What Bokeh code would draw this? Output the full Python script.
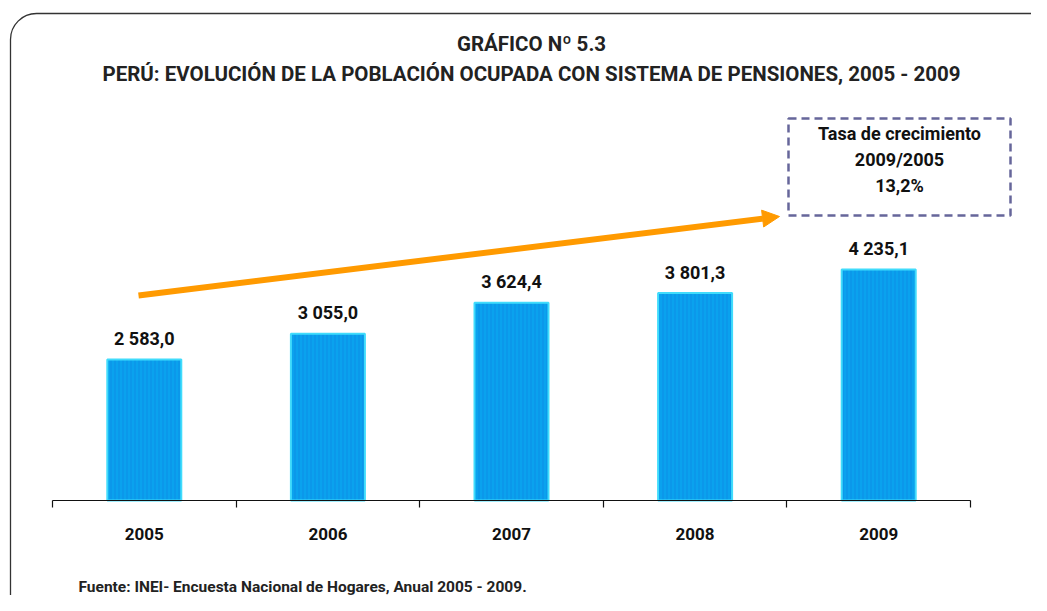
from bokeh.plotting import figure
from bokeh.models import (Range1d, LinearAxis, FixedTicker, BoxAnnotation, Arrow,
                          NormalHead, ColumnDataSource)
from bokeh.core.properties import value
from bokeh.embed import file_html
from bokeh.resources import INLINE

# ---- data ----
years = ["2005", "2006", "2007", "2008", "2009"]
values = [2583.0, 3055.0, 3624.4, 3801.3, 4235.1]
value_labels = ["2 583,0", "3 055,0", "3 624,4", "3 801,3", "4 235,1"]
title_lines = ["GRÁFICO Nº 5.3",
               "PERÚ: EVOLUCIÓN DE LA POBLACIÓN OCUPADA CON SISTEMA DE PENSIONES, 2005 - 2009"]
box_lines = ["Tasa de crecimiento", "2009/2005", "13,2%"]
source_note = "Fuente: INEI- Encuesta Nacional de Hogares, Anual 2005 - 2009."

FONT = "Roboto"
W, H = 1031, 595
PX_X = 183.6          # px per category
UPY = 18.33           # data units per px (y)
X0 = 52               # px position of category boundary 0
Y0 = 500              # px position of y = 0 (from top)

x_start = -X0 / PX_X
x_end = x_start + W / PX_X
y_end = Y0 * UPY
y_start = -(H - Y0) * UPY

def dx(px):  # px -> data x
    return x_start + px / PX_X

def dy(py):  # px (from top) -> data y
    return y_end - py * UPY

p = figure(width=W, height=H, output_backend="svg", toolbar_location=None,
           x_axis_type=None, y_axis_type=None,
           x_range=Range1d(x_start, x_end), y_range=Range1d(y_start, y_end),
           min_border=0, outline_line_color=None)
p.background_fill_color = "white"
p.border_fill_color = "white"

# rounded outer border
p.add_layout(BoxAnnotation(left=dx(10), right=dx(1200), top=dy(13), bottom=dy(800),
                           fill_alpha=0, line_color="#333333", line_alpha=1,
                           line_width=1.3, border_radius=26, level="underlay"))

xc = [i + 0.5 for i in range(len(years))]
src = ColumnDataSource(dict(x=xc, top=values, lab=value_labels))

p.vbar(x="x", top="top", bottom=0, width=0.403, source=src,
       fill_color="#0aa2ee", line_color="#40dcfc", line_width=2,
       hatch_pattern="vertical_line", hatch_color="#1565d0", hatch_alpha=0.3,
       hatch_scale=4, hatch_weight=1)

p.text(x="x", y="top", text="lab", source=src, text_font=value(FONT),
       text_font_style="bold", text_font_size="18px", text_align="center",
       text_baseline="alphabetic", y_offset=-21, text_color="#111111")

# category axis: boundary ticks as minor ticks, year labels at centres
ax = LinearAxis(ticker=FixedTicker(ticks=xc, minor_ticks=list(range(len(years) + 1))),
                major_label_overrides={c: y for c, y in zip(xc, years)},
                fixed_location=0, bounds=(0, len(years)),
                axis_line_color="#111111", axis_line_width=1.2,
                major_tick_line_color=None, major_tick_in=0, major_tick_out=0,
                minor_tick_line_color="#111111", minor_tick_line_width=1.2,
                minor_tick_in=0, minor_tick_out=7,
                major_label_standoff=20, major_label_text_font=FONT,
                major_label_text_font_style="bold", major_label_text_font_size="17px",
                major_label_text_color="#111111")
p.add_layout(ax, "below")

# titles
p.text(x=[dx(531)] * 2, y=[dy(43), dy(73)], text=title_lines, text_font=value(FONT),
       text_font_style="bold", text_font_size="20.5px", text_align="center",
       text_baseline="middle", text_color="#222222")

# arrow
p.add_layout(Arrow(x_start=dx(138), y_start=dy(295), x_end=dx(779), y_end=dy(216),
                   line_color="#ff9a00", line_width=6,
                   end=NormalHead(size=17, fill_color="#ff9a00", line_color="#ff9a00")))

# dashed box
p.add_layout(BoxAnnotation(left=dx(788), right=dx(1010), top=dy(118), bottom=dy(215),
                           fill_alpha=0, line_color="#66669a", line_alpha=1,
                           line_width=2.5, line_dash="8 5"))
p.text(x=[dx(899)] * 3, y=[dy(133), dy(159), dy(185)], text=box_lines,
       text_font=value(FONT), text_font_style="bold", text_font_size="18px",
       text_align="center", text_baseline="middle", text_color="#111111")

# source note
p.text(x=[dx(78)], y=[dy(586)], text=[source_note], text_font=value(FONT),
       text_font_style="bold", text_font_size="15.5px", text_align="left",
       text_baseline="middle", text_color="#222222")

open("out.html", "w").write(file_html(p, INLINE))
